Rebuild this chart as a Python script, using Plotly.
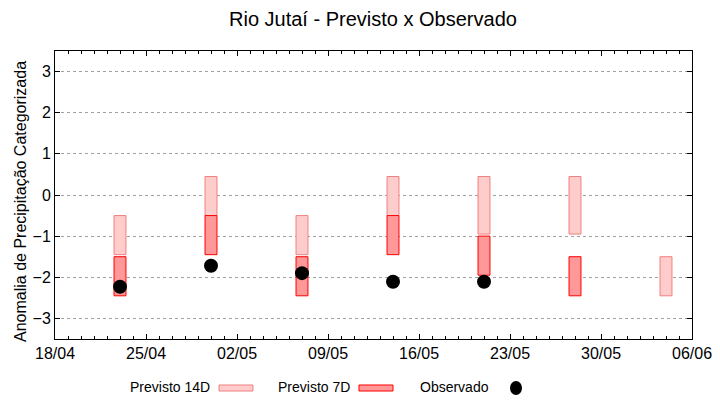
import plotly.graph_objects as go

# ---- data ----
dates = ["2024-04-23", "2024-04-30", "2024-05-07", "2024-05-14", "2024-05-21", "2024-05-28", "2024-06-04"]
p14_low = [-1.45, -0.5, -1.45, -0.5, -0.95, -0.95, -2.45]
p14_high = [-0.5, 0.45, -0.5, 0.45, 0.45, 0.45, -1.5]
d7_dates = ["2024-04-23", "2024-04-30", "2024-05-07", "2024-05-14", "2024-05-21", "2024-05-28"]
p7_low = [-2.45, -1.45, -2.45, -1.45, -1.95, -2.45]
p7_high = [-1.5, -0.5, -1.5, -0.5, -1.0, -1.5]
obs_dates = ["2024-04-23", "2024-04-30", "2024-05-07", "2024-05-14", "2024-05-21"]
obs_vals = [-2.23, -1.72, -1.9, -2.11, -2.11]

DAY = 86400000
C14_FILL, C14_LINE = "#ffcccc", "#f08080"
C7_FILL, C7_LINE = "#ff9999", "#ff0000"
FONT = "Liberation Sans, Arial, sans-serif"

fig = go.Figure()
fig.add_trace(go.Bar(
    x=dates, y=[h - l for h, l in zip(p14_high, p14_low)], base=p14_low,
    width=[0.92 * DAY] * len(dates),
    marker=dict(color=C14_FILL, line=dict(color=C14_LINE, width=1)),
    name="Previsto 14D", showlegend=False,
))
fig.add_trace(go.Bar(
    x=d7_dates, y=[h - l for h, l in zip(p7_high, p7_low)], base=p7_low,
    width=[0.92 * DAY] * len(d7_dates),
    marker=dict(color=C7_FILL, line=dict(color=C7_LINE, width=1)),
    name="Previsto 7D", showlegend=False,
))
fig.add_trace(go.Scatter(
    x=obs_dates, y=obs_vals, mode="markers",
    marker=dict(color="black", size=14),
    name="Observado", showlegend=False,
))

fig.update_layout(
    width=720, height=400,
    margin=dict(l=55, r=28, t=51, b=61),
    paper_bgcolor="white", plot_bgcolor="white",
    barmode="overlay",
    font=dict(family=FONT, size=16, color="black"),
    title=dict(text="Rio Jutaí - Previsto x Observado", x=0.518, xanchor="center",
               y=0.953, yanchor="middle", font=dict(size=20)),
)
fig.update_xaxes(
    type="date", range=["2024-04-18", "2024-06-06"],
    tick0="2024-04-18", dtick=7 * DAY, tickformat="%d/%m",
    ticks="inside", ticklen=5, tickcolor="black",
    minor=dict(dtick=DAY, ticks="inside", ticklen=3, tickcolor="black", showgrid=False),
    showline=True, linecolor="black", linewidth=1, mirror="allticks",
    showgrid=False, zeroline=False, automargin=False,
    tickfont=dict(size=16),
)
fig.update_yaxes(
    range=[-3.5, 3.5], dtick=1, tick0=0,
    ticks="inside", ticklen=5, tickcolor="black",
    showline=True, linecolor="black", linewidth=1, mirror="allticks",
    showgrid=True, gridcolor="#a0a0a0", griddash="dot", gridwidth=1,
    zeroline=False, automargin=False,
    tickfont=dict(size=16),
)
fig.add_annotation(text="Anomalia de Precipitação Categorizada", xref="paper", yref="paper",
                   x=-0.055, y=0.479, xanchor="center", yanchor="middle", textangle=-90,
                   showarrow=False, font=dict(family=FONT, size=16, color="black"))

# ---- custom legend below the plot ----
LF = dict(family="Liberation Sans, Arial", size=14, color="black")
ly = -0.1656
for txt, xr in [("Previsto 14D", 0.2465), ("Previsto 7D", 0.4662), ("Observado", 0.6845)]:
    fig.add_annotation(text=txt, xref="paper", yref="paper", x=xr, y=ly,
                       xanchor="right", yanchor="middle", showarrow=False, font=LF)
fig.add_shape(type="rect", xref="paper", yref="paper", x0=0.2575, x1=0.3108, y0=-0.1806, y1=-0.1597,
              fillcolor=C14_FILL, line=dict(color=C14_LINE, width=1))
fig.add_shape(type="rect", xref="paper", yref="paper", x0=0.4772, x1=0.5306, y0=-0.1806, y1=-0.1597,
              fillcolor=C7_FILL, line=dict(color=C7_LINE, width=1))
fig.add_shape(type="circle", xref="paper", yref="paper", xsizemode="pixel", ysizemode="pixel",
              xanchor=0.7237, yanchor=-0.170, x0=-6, x1=6, y0=-7, y1=7,
              fillcolor="black", line=dict(color="black", width=0))

fig.write_html("out.html", config={"displayModeBar": False},
               post_script="document.body.style.margin='0';document.body.style.padding='0';"
                           "document.body.style.overflow='hidden';")
